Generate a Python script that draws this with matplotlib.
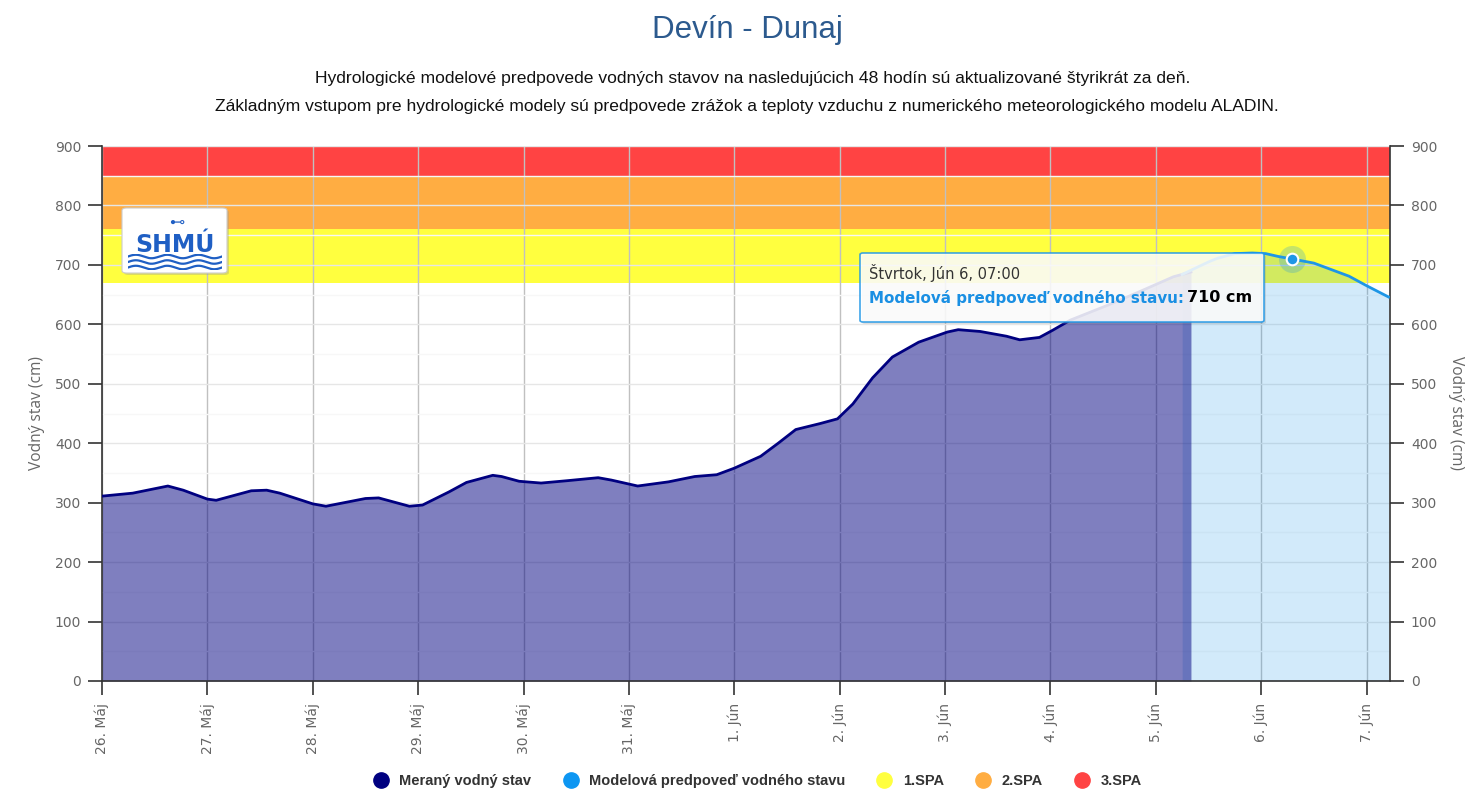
import numpy as np
import matplotlib
matplotlib.use("Agg")
import matplotlib.pyplot as plt
import matplotlib.dates as mdates
from matplotlib.patches import FancyBboxPatch
from matplotlib.lines import Line2D

# ---------------- data ----------------
measured_times = [
    "2024-05-26 00:00", "2024-05-26 07:00", "2024-05-26 15:00", "2024-05-26 18:30",
    "2024-05-27 00:00", "2024-05-27 02:00", "2024-05-27 10:00", "2024-05-27 13:30",
    "2024-05-27 16:30", "2024-05-28 00:00", "2024-05-28 03:00", "2024-05-28 12:00",
    "2024-05-28 15:00", "2024-05-28 18:00", "2024-05-28 22:00", "2024-05-29 01:00",
    "2024-05-29 07:00", "2024-05-29 11:00", "2024-05-29 17:00", "2024-05-29 19:00",
    "2024-05-29 23:00", "2024-05-30 04:00", "2024-05-30 10:00", "2024-05-30 17:00",
    "2024-05-30 20:00", "2024-05-31 02:00", "2024-05-31 09:00", "2024-05-31 15:00",
    "2024-05-31 20:00", "2024-06-01 00:00", "2024-06-01 06:00", "2024-06-01 10:00",
    "2024-06-01 14:00", "2024-06-01 19:30", "2024-06-01 23:30", "2024-06-02 03:00",
    "2024-06-02 07:30", "2024-06-02 12:00", "2024-06-02 18:00", "2024-06-03 00:30",
    "2024-06-03 03:00", "2024-06-03 08:00", "2024-06-03 14:00", "2024-06-03 17:00",
    "2024-06-03 21:30", "2024-06-04 00:30", "2024-06-04 04:30", "2024-06-04 13:00",
    "2024-06-04 20:00", "2024-06-05 04:00", "2024-06-05 08:00",
]
measured_values = [
    311, 316, 328, 321,
    306, 304, 320, 321,
    316, 298, 294, 307,
    308, 302, 294, 296,
    318, 334, 346, 344,
    336, 333, 337, 342,
    338, 328, 335, 344,
    347, 358, 378, 400,
    423, 433, 441, 466,
    510, 545, 570, 587,
    591, 588, 580, 574,
    578, 590, 607, 632,
    654, 680, 688,
]

forecast_times = [
    "2024-06-05 06:00", "2024-06-05 12:00", "2024-06-05 14:00", "2024-06-05 18:00",
    "2024-06-05 22:00", "2024-06-06 01:00", "2024-06-06 04:00", "2024-06-06 07:00",
    "2024-06-06 12:00", "2024-06-06 20:00", "2024-06-07 00:00", "2024-06-07 05:00",
]
forecast_values = [684, 705, 711, 719, 720, 719, 714, 710, 703, 681, 665, 646]

spa_levels = [670, 760, 850, 900]   # 1.SPA, 2.SPA, 3.SPA, top
spa_names = ["1.SPA", "2.SPA", "3.SPA"]
tick_days = ["2024-05-26", "2024-05-27", "2024-05-28", "2024-05-29", "2024-05-30",
             "2024-05-31", "2024-06-01", "2024-06-02", "2024-06-03", "2024-06-04",
             "2024-06-05", "2024-06-06", "2024-06-07"]
tick_labels = ["26. Máj", "27. Máj", "28. Máj", "29. Máj", "30. Máj", "31. Máj",
               "1. Jún", "2. Jún", "3. Jún", "4. Jún", "5. Jún", "6. Jún", "7. Jún"]
highlight_time = "2024-06-06 07:00"
highlight_value = 710

# ---------------- styles ----------------
NAVY = "#000080"
FC = "#1e96e6"
SPA_COLORS = ["#ffff3f", "#ffad42", "#ff4343"]
W, H = 1473, 807
CX = 747 / W

mt = mdates.date2num(np.array(measured_times, dtype="datetime64[m]"))
ft = mdates.date2num(np.array(forecast_times, dtype="datetime64[m]"))
td = mdates.date2num(np.array(tick_days, dtype="datetime64[m]"))
ht = mdates.date2num(np.datetime64(highlight_time))

fig = plt.figure(figsize=(W / 100, H / 100), dpi=100)
fig.patch.set_facecolor("white")
ax = fig.add_axes([102 / W, 1 - 681 / H, (1390 - 102) / W, (681 - 146) / H])

# bands
for i in range(3):
    ax.axhspan(spa_levels[i], spa_levels[i + 1], color=SPA_COLORS[i], zorder=0.2, lw=0)

# grid
ax.set_axisbelow(True)
ax.set_yticks(np.arange(0, 901, 100))
ax.set_yticks(np.arange(50, 900, 100), minor=True)
ax.set_xticks(td)
ax.set_xticklabels(tick_labels)
ax.grid(True, which="major", axis="y", color="#e6e6e6", lw=1)
ax.grid(True, which="minor", axis="y", color="#f7f7f7", lw=1)
ax.grid(True, which="major", axis="x", color="#c0c0c0", lw=1)

# series
ax.fill_between(ft, 0, forecast_values, color=FC, alpha=0.2, lw=0, zorder=2)
ax.fill_between(mt, 0, measured_values, color=NAVY, alpha=0.5, lw=0, zorder=2.1)
ax.plot(mt, measured_values, color=NAVY, lw=2, zorder=3)
ax.plot(ft, forecast_values, color=FC, lw=2, zorder=3)

# highlight point
ax.scatter([ht], [highlight_value], s=380, color=FC, alpha=0.25, lw=0, zorder=4)
ax.scatter([ht], [highlight_value], s=70, color=FC, edgecolor="white", lw=1.5, zorder=5)

ax.set_xlim(mdates.date2num(np.datetime64("2024-05-26 00:00")),
            mdates.date2num(np.datetime64("2024-06-07 05:20")))
ax.set_ylim(0, 900)

ax.spines["top"].set_visible(False)
for s in ["left", "right", "bottom"]:
    ax.spines[s].set_color("#333333")
    ax.spines[s].set_linewidth(1.2)

ax.tick_params(axis="x", which="major", direction="out", length=10, width=1.2,
               color="#333333", labelcolor="#666666", labelsize=10, rotation=90, pad=6)
ax.tick_params(axis="y", which="major", direction="out", length=10, width=1.2,
               color="#333333", labelcolor="#666666", labelsize=10, right=True,
               labelright=True, pad=5)
ax.tick_params(axis="y", which="minor", length=0)
for lab in ax.get_xticklabels():
    lab.set_fontfamily("DejaVu Sans")
for lab in ax.get_yticklabels():
    lab.set_fontfamily("DejaVu Sans")

fig.text(37 / W, 1 - 413 / H, "Vodný stav (cm)", rotation=90, ha="center", va="center",
         color="#666666", fontsize=11.2, family="Open Sans")
fig.text(1456 / W, 1 - 413 / H, "Vodný stav (cm)", rotation=270, ha="center", va="center",
         color="#666666", fontsize=11.2, family="Open Sans")

# titles
fig.text(CX, 1 - 30 / H, "Devín - Dunaj", ha="center", va="center",
         color="#2c5a8e", fontsize=22.5, family="Liberation Sans")
fig.text(753 / W, 1 - 79 / H,
         "Hydrologické modelové predpovede vodných stavov na nasledujúcich 48 hodín sú aktualizované štyrikrát za deň.",
         ha="center", va="center", color="#111111", fontsize=12.6, family="Liberation Sans")
fig.text(CX, 1 - 106 / H,
         "Základným vstupom pre hydrologické modely sú predpovede zrážok a teploty vzduchu z numerického meteorologického modelu ALADIN.",
         ha="center", va="center", color="#111111", fontsize=12.6, family="Liberation Sans")

# logo
shadow = FancyBboxPatch((124 / W, 1 - 275 / H), 105 / W, 65 / H,
                        boxstyle="round,pad=0,rounding_size=0.003",
                        transform=fig.transFigure, facecolor="#999999", alpha=0.35,
                        edgecolor="none", zorder=6)
logo = FancyBboxPatch((122 / W, 1 - 273 / H), 105 / W, 65 / H,
                      boxstyle="round,pad=0,rounding_size=0.003",
                      transform=fig.transFigure, facecolor="white",
                      edgecolor="#cccccc", lw=0.8, zorder=7)
fig.patches.extend([shadow, logo])
fig.text(175 / W, 1 - 245 / H, "SHMÚ", ha="center", va="center", color="#1f5fc4",
         fontsize=17, fontweight="heavy", family="DejaVu Sans", zorder=8)
lax = fig.add_axes([128 / W, 1 - 270 / H, 94 / W, 16 / H], zorder=8)
lax.set_axis_off()
xx = np.linspace(0, 6 * np.pi, 200)
for k in range(3):
    lax.plot(xx, 0.35 * np.sin(xx) - 1.1 * k, color="#1f5fc4", lw=1.6)
lax.set_xlim(0, 6 * np.pi)
lax.set_ylim(-2.7, 0.5)
fig.text(177 / W, 1 - 222 / H, "⊷", ha="center", va="center", color="#1f5fc4",
         fontsize=11, family="DejaVu Sans", zorder=8)

# tooltip
tshadow = FancyBboxPatch((862 / W, 1 - 324 / H), 404 / W, 69 / H,
                         boxstyle="round,pad=0,rounding_size=0.002",
                         transform=fig.transFigure, facecolor="#888888", alpha=0.25,
                         edgecolor="none", zorder=9)
tip = FancyBboxPatch((860 / W, 1 - 322 / H), 404 / W, 69 / H,
                     boxstyle="round,pad=0,rounding_size=0.002",
                     transform=fig.transFigure, facecolor="white", alpha=0.85,
                     edgecolor=FC, lw=1.2, zorder=10)
fig.patches.extend([tshadow, tip])
fig.text(869 / W, 1 - 273 / H, "Štvrtok, Jún 6, 07:00", ha="left", va="center",
         color="#333333", fontsize=10.5, family="DejaVu Sans", zorder=11)
fig.text(1184 / W, 1 - 298 / H, "Modelová predpoveď vodného stavu:", ha="right",
         va="center", color="#1a8fe3", fontsize=10.9, fontweight="bold",
         family="DejaVu Sans", zorder=11)
fig.text(1252 / W, 1 - 298 / H, "710 cm", ha="right", va="center", color="#000000",
         fontsize=11.5, fontweight="bold", family="DejaVu Sans", zorder=11)

# legend
handles = [Line2D([], [], ls="none", marker="o", ms=11, color=NAVY),
           Line2D([], [], ls="none", marker="o", ms=11, color="#0d96f2")]
handles += [Line2D([], [], ls="none", marker="o", ms=11, color=c) for c in SPA_COLORS]
labels = ["Meraný vodný stav", "Modelová predpoveď vodného stavu"] + spa_names
leg = fig.legend(handles, labels, loc="center", bbox_to_anchor=(754 / W, 1 - 781 / H),
                 ncol=5, frameon=False, handletextpad=0.25, columnspacing=1.7,
                 prop={"family": "Liberation Sans", "size": 10.5, "weight": "bold"})
for t in leg.get_texts():
    t.set_color("#333333")

fig.savefig("out.png", dpi=100, facecolor="white")
